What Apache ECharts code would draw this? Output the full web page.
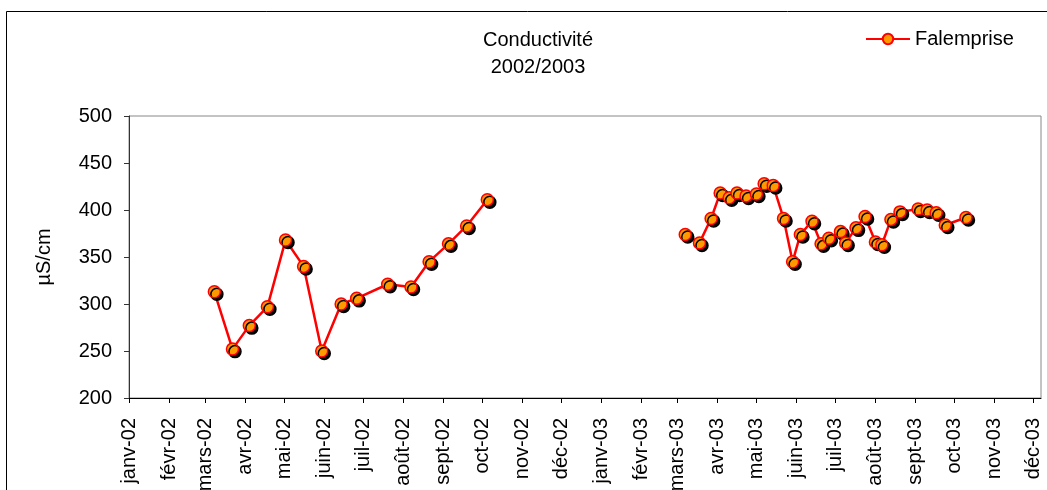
<!DOCTYPE html>
<html>
<head>
<meta charset="utf-8">
<script src="https://cdn.jsdelivr.net/npm/echarts@6/dist/echarts.min.js"></script>
<style>
  html, body { margin: 0; padding: 0; background: #fff; }
  #chart { width: 1047px; height: 490px; }
</style>
</head>
<body>
<div id="chart"></div>
<script>
const dates2002 = ['2002-03-08', '2002-03-22', '2002-04-04', '2002-04-18', '2002-05-02', '2002-05-16', '2002-05-30',
  '2002-06-14', '2002-06-26', '2002-07-20', '2002-08-07', '2002-08-21', '2002-09-05', '2002-09-19', '2002-10-05']
const values2002 = [313, 252, 277, 297, 368, 340, 250, 300, 306, 321, 318, 345, 364, 383, 411]

const dates2003 = ['2003-03-07', '2003-03-18', '2003-03-27', '2003-04-03', '2003-04-10', '2003-04-16', '2003-04-23',
  '2003-05-01', '2003-05-07', '2003-05-14', '2003-05-22', '2003-05-29', '2003-06-04', '2003-06-13', '2003-06-20',
  '2003-06-26', '2003-07-05', '2003-07-09', '2003-07-17', '2003-07-24', '2003-08-01', '2003-08-06', '2003-08-13',
  '2003-08-20', '2003-09-03', '2003-09-10', '2003-09-17', '2003-09-24', '2003-10-10']
const values2003 = [374, 365, 391, 418, 413, 418, 415, 417, 428, 426, 391, 345, 374, 388, 364,
  370, 377, 365, 381, 393, 366, 363, 390, 398, 401, 400, 397, 384, 392]

const monthNames = ['janv', 'févr', 'mars', 'avr', 'mai', 'juin', 'juil', 'août', 'sept', 'oct', 'nov', 'déc']
const yTicks = [200, 250, 300, 350, 400, 450, 500]

const FONT = 'Liberation Sans, Arial, sans-serif'

// une valeur vide entre les deux campagnes pour couper la ligne
const seriesData = dates2002.map((d, i) => [d, values2002[i]])
  .concat([['2002-12-15', '-']])
  .concat(dates2003.map((d, i) => [d, values2003[i]]))

const chart = echarts.init(document.getElementById('chart'))
chart.setOption({
  animation: false,
  textStyle: { fontFamily: FONT },
  title: {
    text: 'Conductivité\n2002/2003',
    left: 533,
    top: 22,
    textAlign: 'center',
    textStyle: { fontFamily: FONT, fontSize: 20, fontWeight: 'normal', color: '#000', lineHeight: 27 }
  },
  legend: {
    left: 860,
    top: 24,
    itemWidth: 44,
    itemHeight: 13,
    itemGap: 3,
    textStyle: { fontFamily: FONT, fontSize: 20, color: '#000' },
    data: ['Falemprise']
  },
  graphic: [
    {
      type: 'rect',
      shape: { x: 6.5, y: 11.5, width: 1100, height: 600 },
      style: { fill: 'none', stroke: '#000', lineWidth: 1 },
      silent: true
    }
  ],
  grid: {
    left: 129,
    right: 6,
    top: 116,
    bottom: 92,
    outerBoundsMode: 'none',
    containLabel: false,
    show: true,
    borderColor: '#888',
    borderWidth: 1
  },
  xAxis: {
    type: 'time',
    min: '2002-01-01',
    max: '2003-12-07',
    minInterval: 28 * 86400000,
    maxInterval: 31 * 86400000,
    splitNumber: 23,
    axisLine: { lineStyle: { color: '#000', width: 1 } },
    axisTick: { show: true, length: 5, inside: false, lineStyle: { color: '#000' } },
    splitLine: { show: false },
    axisLabel: {
      rotate: 90,
      margin: 20,
      interval: 0,
      hideOverlap: false,
      showMaxLabel: false,
      fontFamily: FONT,
      fontSize: 20,
      color: '#000',
      formatter: function (value) {
        const d = new Date(value)
        return monthNames[d.getMonth()] + '-' + String(d.getFullYear()).slice(2)
      }
    }
  },
  yAxis: {
    type: 'value',
    min: yTicks[0],
    max: yTicks[yTicks.length - 1],
    interval: 50,
    name: 'µS/cm',
    nameLocation: 'middle',
    nameRotate: 90,
    nameGap: 75,
    nameTextStyle: { fontFamily: FONT, fontSize: 20, color: '#000' },
    axisLine: { show: true, lineStyle: { color: '#333', width: 1 } },
    axisTick: { show: true, length: 5, inside: false, lineStyle: { color: '#333' } },
    splitLine: { show: false },
    axisLabel: { margin: 17, fontFamily: FONT, fontSize: 20, color: '#000' }
  },
  series: [
    {
      name: 'Falemprise',
      type: 'line',
      data: seriesData,
      connectNulls: false,
      symbol: 'circle',
      symbolSize: 12,
      showAllSymbol: true,
      lineStyle: { color: '#FF0000', width: 2.5 },
      itemStyle: {
        color: '#FF9900',
        borderColor: '#FF0000',
        borderWidth: 1.5,
        shadowColor: '#000',
        shadowBlur: 0,
        shadowOffsetX: 2.5,
        shadowOffsetY: 2.5
      }
    }
  ]
})
</script>
</body>
</html>
